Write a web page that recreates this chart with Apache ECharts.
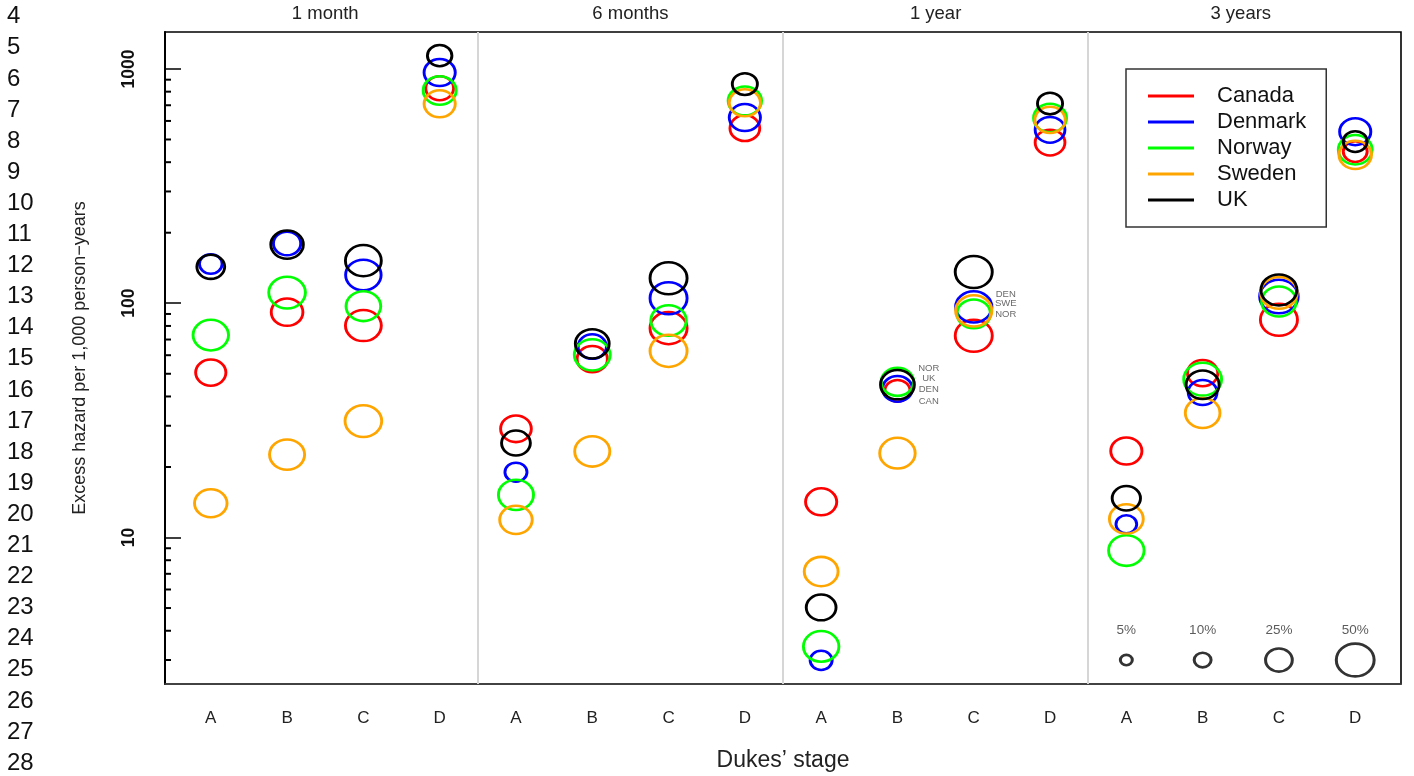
<!DOCTYPE html>
<html>
<head>
<meta charset="utf-8">
<script src="https://cdn.jsdelivr.net/npm/echarts@6/dist/echarts.min.js"></script>
<style>
html,body{margin:0;padding:0;background:#fff;}
#chart{width:1414px;height:776px;}
</style>
</head>
<body>
<div id="chart"></div>
<script>
// ---------- data ----------
const periods = ['1 month', '6 months', '1 year', '3 years'];
const stages = ['A', 'B', 'C', 'D'];
const countries = ['Canada', 'Denmark', 'Norway', 'Sweden', 'UK'];
const countryColors = ['#FF0000', '#0000FF', '#00FF00', '#FFA500', '#000000'];

// excess hazard per 1,000 person-years, order: 1 month A-D, 6 months A-D, 1 year A-D, 3 years A-D
const canadaHazard  = [50.6, 91.6, 80.3, 828, 29.1, 57.7, 78.3, 559, 14.2, 42.3, 72.6, 485, 23.4, 50.3, 85.0, 444];
const denmarkHazard = [147, 180, 132, 965, 19.0, 65.3, 105, 620, 2.99, 43.1, 96.5, 550, 11.4, 41.6, 106.8, 540];
const norwayHazard  = [73.1, 111, 97.2, 809, 15.2, 60.2, 84.4, 731, 3.43, 46.2, 90.1, 617, 8.80, 47.4, 101.7, 452];
const swedenHazard  = [14.0, 22.6, 31.4, 710, 11.9, 23.3, 62.6, 717, 7.16, 22.9, 92.8, 606, 12.0, 34.0, 110.8, 430];
const ukHazard      = [143, 178, 152, 1140, 25.3, 67.1, 127.8, 862, 5.03, 44.9, 136, 712, 14.7, 44.9, 114, 490];

// circle size (% of patients)
const canadaPct  = [32, 35, 45, 27, 33, 32, 48, 31, 34, 22, 48, 31, 34, 32, 48, 20];
const denmarkPct = [18, 26, 44, 34, 17, 28, 48, 34, 17, 31, 46, 31, 15, 29, 52, 34];
const norwayPct  = [44, 47, 42, 38, 43, 45, 44, 39, 44, 37, 39, 38, 44, 50, 42, 40];
const swedenPct  = [37, 43, 47, 34, 37, 43, 48, 34, 40, 44, 46, 32, 40, 42, 47, 37];
const ukPct      = [27, 37, 45, 21, 29, 40, 48, 22, 31, 40, 48, 22, 28, 38, 45, 20];

// size key
const keyPercents = [5, 10, 25, 50];

// annotations in the 1 year panel
const annotB1yText = ['NOR', 'UK', 'DEN', 'CAN'];
const annotB1yVal  = [52.9, 47.6, 43.0, 38.1];
const annotC1yText = ['DEN', 'SWE', 'NOR'];
const annotC1yVal  = [109.4, 99.7, 89.2];

// y-axis tick values
const majorTicks = [10, 100, 1000];
const minorTicks = [3, 4, 5, 6, 7, 8, 9, 20, 30, 40, 50, 60, 70, 80, 90, 200, 300, 400, 500, 600, 700, 800, 900];

// left-margin line numbers
const lineNumbers = [4,5,6,7,8,9,10,11,12,13,14,15,16,17,18,19,20,21,22,23,24,25,26,27,28];

// ---------- build ----------
const hazards = [canadaHazard, denmarkHazard, norwayHazard, swedenHazard, ukHazard];
const pcts = [canadaPct, denmarkPct, norwayPct, swedenPct, ukPct];
const FONT = '"Liberation Sans", Arial, Helvetica, sans-serif';
const ELLIPSE = 'path://M0,10A10,10,0,1,1,20,10A10,10,0,1,1,0,10Z';
const PX_PER_SQRT_PCT = 5.35;
const ASPECT = 0.865;
function ellipseSize(val) {
  const w = PX_PER_SQRT_PCT * Math.sqrt(val[2]);
  return [w, w * ASPECT];
}
const positions = [];
for (let i = 1; i <= 16; i++) positions.push(i);

const series = countries.map((name, ci) => ({
  type: 'scatter',
  name: name,
  xAxisIndex: 0, yAxisIndex: 0,
  data: hazards[ci].map((v, i) => [positions[i], v, pcts[ci][i]]),
  symbol: ELLIPSE,
  symbolSize: ellipseSize,
  itemStyle: { color: 'rgba(0,0,0,0)', borderColor: countryColors[ci], borderWidth: 2.7, opacity: 1 },
  emphasis: { disabled: true },
  silent: true,
  z: 3
}));

// panel dividers
series.unshift({
  type: 'scatter', name: 'dividers', data: [], silent: true,
  markLine: {
    silent: true, symbol: 'none', animation: false,
    label: { show: false },
    lineStyle: { color: '#d6d6d6', width: 2, type: 'solid' },
    data: [{ xAxis: 4.5 }, { xAxis: 8.5 }, { xAxis: 12.5 }]
  },
  z: 1
});

// minor ticks on the log axis
series.push({
  type: 'custom', name: 'minorTicks', silent: true, clip: false,
  data: minorTicks.map(v => [0.4, v]),
  encode: { x: 0, y: 1 },
  renderItem: function (params, api) {
    const p = api.coord([api.value(0), api.value(1)]);
    return { type: 'line', shape: { x1: p[0], y1: p[1], x2: p[0] + 6, y2: p[1] },
             style: { stroke: '#000', lineWidth: 2 } };
  },
  z: 4
});

// size key circles
series.push({
  type: 'scatter', name: 'sizeKey', silent: true,
  data: keyPercents.map((p, i) => [13 + i, 3, p]),
  symbol: ELLIPSE, symbolSize: ellipseSize,
  itemStyle: { color: 'rgba(0,0,0,0)', borderColor: '#000', borderWidth: 2.8 },
  emphasis: { disabled: true }, z: 3
});
series.push({
  type: 'scatter', name: 'sizeKeyLabels', silent: true,
  data: keyPercents.map((p, i) => [13 + i, 4, p]),
  symbolSize: 0,
  label: { show: true, position: 'inside', formatter: d => d.value[2] + '%', fontSize: 13.5, color: '#333', fontFamily: FONT },
  emphasis: { disabled: true }, z: 5
});
// annotations
const annotData = annotB1yText.map((t, i) => [10.41, annotB1yVal[i], t])
  .concat(annotC1yText.map((t, i) => [11.42, annotC1yVal[i], t]));
series.push({
  type: 'scatter', name: 'annotations', silent: true,
  data: annotData, symbolSize: 0,
  label: { show: true, position: 'inside', formatter: d => d.value[2], fontSize: 9.5, color: '#444', fontFamily: FONT },
  emphasis: { disabled: true }, z: 5
});

const graphics = lineNumbers.map((n, i) => ({
  type: 'text', x: 7, y: 16.7 + 31.1 * i, silent: true,
  style: { text: String(n), fontSize: 24, fill: '#111', font: '24px ' + FONT, verticalAlign: 'middle', align: 'left' }
}));

const chart = echarts.init(document.getElementById('chart'), null, { renderer: 'canvas' });
chart.setOption({
  animation: false,
  backgroundColor: '#fff',
  textStyle: { fontFamily: FONT },
  grid: { left: 165, right: 13, top: 32, bottom: 92, show: true, borderColor: '#000', borderWidth: 1.6, containLabel: false, outerBoundsMode: 'none' },
  legend: {
    orient: 'vertical', left: 1126, top: 69,
    padding: [16, 20, 16, 22], itemGap: 4, itemWidth: 46, itemHeight: 3, icon: 'rect',
    borderColor: '#333', borderWidth: 1.5, selectedMode: false,
    textStyle: { fontSize: 22, lineHeight: 22, color: '#111', fontFamily: FONT, padding: [0, 0, 0, 18] },
    data: countries.map((n, i) => ({ name: n, itemStyle: { color: countryColors[i], borderWidth: 0 } }))
  },
  xAxis: [{
    type: 'value', position: 'bottom', min: 0.4, max: 16.6,
    axisLine: { show: true, lineStyle: { color: '#444', width: 1.5 } },
    axisTick: { show: false }, splitLine: { show: false },
    axisLabel: { customValues: positions, formatter: v => stages[(Math.round(v) - 1) % 4], fontSize: 17, color: '#222', margin: 26 },
    name: 'Dukes’ stage', nameLocation: 'middle', nameGap: 65,
    nameTextStyle: { fontSize: 23, color: '#222' }
  }, {
    type: 'value', position: 'top', min: 0.4, max: 16.6,
    axisLine: { show: false }, axisTick: { show: false }, splitLine: { show: false },
    axisLabel: { customValues: [2.5, 6.5, 10.5, 14.5], formatter: v => periods[Math.round((v - 2.5) / 4)], fontSize: 18.5, color: '#222', margin: 9 }
  }],
  yAxis: [{
    type: 'log', logBase: 10, min: 2.37, max: 1438, position: 'left',
    axisLine: { show: true, lineStyle: { color: '#000', width: 2 } },
    axisTick: { show: true, inside: true, length: 16, lineStyle: { color: '#000', width: 1.5 } },
    splitLine: { show: false },
    axisLabel: { showMinLabel: false, showMaxLabel: false, rotate: 90, margin: 27, fontSize: 17.5, fontWeight: 'bold', color: '#111',
                 formatter: v => String(Math.round(v)) },
    name: 'Excess hazard per 1,000 person\u2212years', nameLocation: 'middle', nameGap: 76,
    nameTextStyle: { fontSize: 18, color: '#222' }
  }],
  graphic: graphics,
  series: series
});
</script>
</body>
</html>
